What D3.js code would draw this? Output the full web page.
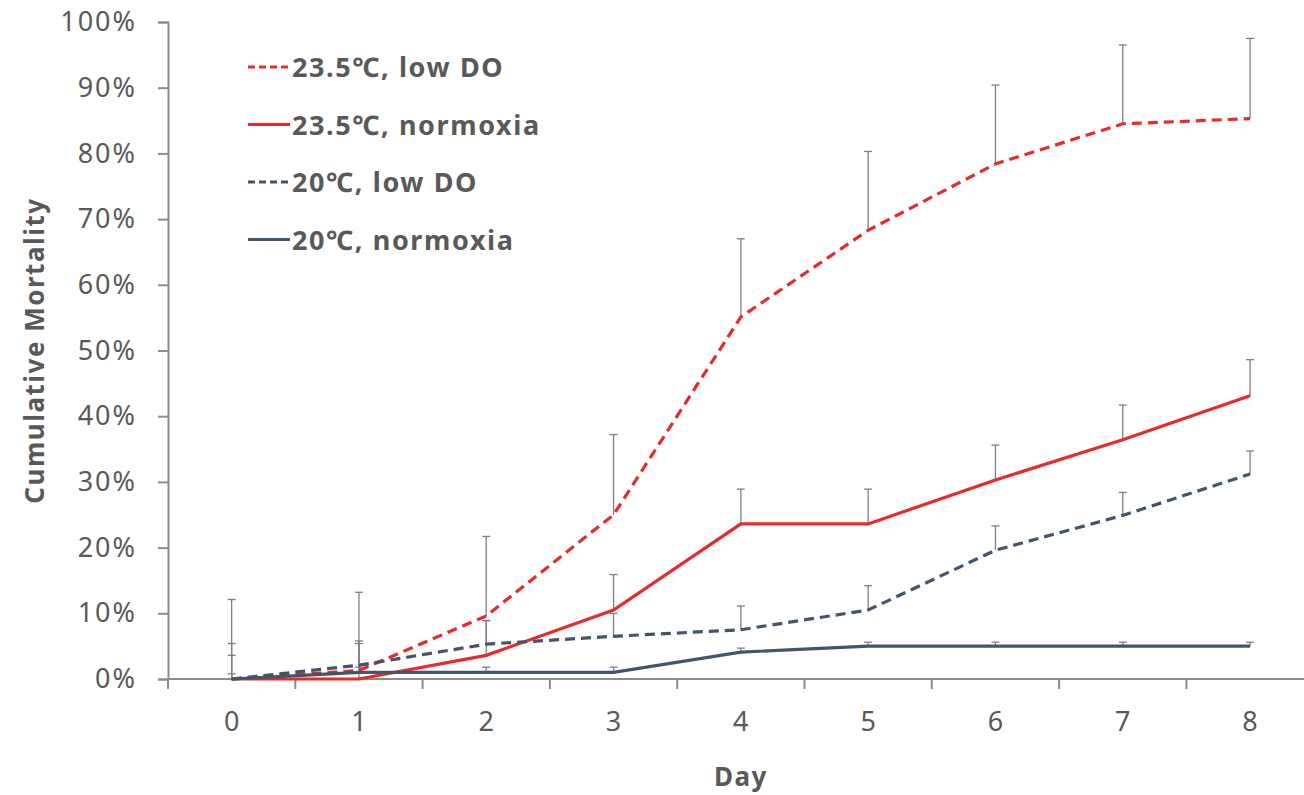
<!DOCTYPE html>
<html>
<head>
<meta charset="utf-8">
<script src="https://cdn.jsdelivr.net/npm/d3@7"></script>
<style>
    body { margin: 0; background: #fff; }
    text { font-family: "Noto Sans", "Open Sans", sans-serif; fill: #595959; }
</style>
</head>
<body>
<svg id="vis"></svg>
<script>
const WIDTH = 1304;
const HEIGHT = 795;
const RED = "#ea2a2a";
const SLATE = "#44546a";
const AXIS_COLOR = "#8c8c8c";
const ERR_COLOR = "#7f7f7f";

// chart data
const days = ["0", "1", "2", "3", "4", "5", "6", "7", "8"];
const seriesNames = ["23.5℃, low DO", "23.5℃, normoxia", "20℃, low DO", "20℃, normoxia"];
const hotLowDO = [0, 1.3, 9.6, 25.0, 55.1, 68.3, 78.4, 84.5, 85.3];
const hotLowDOErr = [12.1, 11.9, 12.1, 12.2, 11.9, 12.0, 12.0, 12.0, 12.2];
const hotNormoxia = [0, 0, 3.6, 10.5, 23.6, 23.6, 30.3, 36.4, 43.1];
const hotNormoxiaErr = [5.4, 5.4, 5.3, 5.4, 5.3, 5.3, 5.3, 5.3, 5.5];
const coolLowDO = [0, 2.1, 5.3, 6.5, 7.5, 10.5, 19.6, 24.9, 31.2];
const coolLowDOErr = [3.6, 3.7, 3.6, 3.5, 3.6, 3.7, 3.7, 3.5, 3.5];
const coolNormoxia = [0, 1.0, 1.0, 1.0, 4.1, 5.0, 5.0, 5.0, 5.0];
const coolNormoxiaErr = [0.8, 0.8, 0.8, 0.8, 0.6, 0.6, 0.6, 0.6, 0.6];
const yTicks = [0, 10, 20, 30, 40, 50, 60, 70, 80, 90, 100];

const series = [
    {name: seriesNames[0], values: hotLowDO, errors: hotLowDOErr, color: RED, dash: "10,6"},
    {name: seriesNames[1], values: hotNormoxia, errors: hotNormoxiaErr, color: RED, dash: null},
    {name: seriesNames[2], values: coolLowDO, errors: coolLowDOErr, color: SLATE, dash: "10,6"},
    {name: seriesNames[3], values: coolNormoxia, errors: coolNormoxiaErr, color: SLATE, dash: null}
];

const margin = {top: 22, left: 168, bottom: 116};
const svg = d3.select("#vis")
    .attr("width", WIDTH)
    .attr("height", HEIGHT);

const x = d3.scaleBand()
    .domain(days)
    .range([margin.left, margin.left + 9 * 127.3]);
const y = d3.scaleLinear()
    .domain([0, 100])
    .range([HEIGHT - margin.bottom, margin.top]);
const cx = d => x(d) + x.bandwidth() / 2;


function drawAxes() {
    // y axis
    const yAxis = svg.append("g")
        .attr("transform", "translate(" + margin.left + ",0)")
        .call(d3.axisLeft(y).tickValues(yTicks).tickFormat(d => d + "%").tickSize(10).tickPadding(21));
    yAxis.select(".domain").attr("stroke", AXIS_COLOR).attr("stroke-width", 2);
    yAxis.selectAll(".tick line").attr("stroke", AXIS_COLOR).attr("stroke-width", 2);
    yAxis.selectAll(".tick text")
        .attr("font-size", 27)
        .attr("fill", "#595959")
        .style("letter-spacing", "2px")
        .style("font-family", "'Noto Sans', sans-serif");

    // x axis: ticks sit between categories
    const xg = svg.append("g")
        .attr("transform", "translate(0," + y(0) + ")");
    xg.append("line")
        .attr("x1", margin.left)
        .attr("x2", WIDTH)
        .attr("stroke", AXIS_COLOR)
        .attr("stroke-width", 2);
    xg.selectAll(".xtick").data(days.concat(["end"])).join("line")
        .attr("class", "xtick")
        .attr("x1", (d, i) => margin.left + i * x.step())
        .attr("x2", (d, i) => margin.left + i * x.step())
        .attr("y1", 0)
        .attr("y2", 10)
        .attr("stroke", AXIS_COLOR)
        .attr("stroke-width", 2);
    xg.selectAll(".xlabel").data(days).join("text")
        .attr("class", "xlabel")
        .attr("x", cx)
        .attr("y", 52)
        .attr("text-anchor", "middle")
        .attr("font-size", 27)
        .text(d => d);

    svg.append("text")
        .attr("x", 741)
        .attr("y", 786)
        .attr("text-anchor", "middle")
        .attr("font-size", 26)
        .attr("font-weight", "bold")
        .style("letter-spacing", "1.5px")
        .text("Day");

    svg.append("text")
        .attr("transform", "translate(44," + y(50) + ") rotate(-90)")
        .attr("text-anchor", "middle")
        .attr("font-size", 26)
        .attr("font-weight", "bold")
        .style("letter-spacing", "1.5px")
        .text("Cumulative Mortality");
}


function drawSeries() {
    const line = d3.line()
        .x((d, i) => cx(days[i]))
        .y(d => y(d));

    series.forEach(s => {
        // upper error bars only
        const bars = svg.append("g").attr("class", "errbars");
        bars.selectAll("line.stem").data(s.values).join("line")
            .attr("class", "stem")
            .attr("x1", (d, i) => cx(days[i]))
            .attr("x2", (d, i) => cx(days[i]))
            .attr("y1", d => y(d))
            .attr("y2", (d, i) => y(d + s.errors[i]))
            .attr("stroke", ERR_COLOR)
            .attr("stroke-width", 1.3);
        bars.selectAll("line.cap").data(s.values).join("line")
            .attr("class", "cap")
            .attr("x1", (d, i) => cx(days[i]) - 4)
            .attr("x2", (d, i) => cx(days[i]) + 4)
            .attr("y1", (d, i) => y(d + s.errors[i]))
            .attr("y2", (d, i) => y(d + s.errors[i]))
            .attr("stroke", ERR_COLOR)
            .attr("stroke-width", 1.3);
    });

    series.forEach(s => {
        svg.append("path")
            .datum(s.values)
            .attr("d", line)
            .attr("fill", "none")
            .attr("stroke", s.color)
            .attr("stroke-width", 3.2)
            .attr("stroke-dasharray", s.dash);
    });
}


function drawLegend() {
    const legend = svg.append("g").attr("transform", "translate(248,67)");
    const rows = legend.selectAll("g").data(series).join("g")
        .attr("transform", (d, i) => "translate(0," + i * 57.5 + ")");
    rows.append("line")
        .attr("x1", 0)
        .attr("x2", 42)
        .attr("stroke", d => d.color)
        .attr("stroke-width", 2.8)
        .attr("stroke-dasharray", d => d.dash ? "7,4" : null);
    rows.append("text")
        .attr("x", 44)
        .attr("y", 10)
        .attr("font-size", 27)
        .attr("font-weight", "bold")
        .style("letter-spacing", "1.6px")
        .text(d => d.name);
}


drawAxes();
drawSeries();
drawLegend();
</script>
</body>
</html>
